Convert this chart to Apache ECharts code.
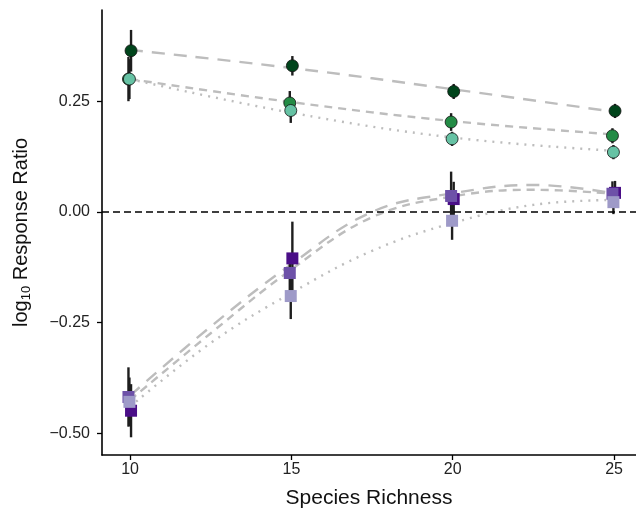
<!DOCTYPE html>
<html>
<head>
<meta charset="utf-8">
<script src="https://cdn.jsdelivr.net/npm/echarts@6/dist/echarts.min.js"></script>
<style>html,body{margin:0;padding:0;background:#fff}#c{width:636px;height:514px}</style>
</head>
<body>
<div id="c"></div>
<script>
// ---- Data ----
const richness = [10, 15, 20, 25];
const xTicks = [10, 15, 20, 25];
const yTicks = [-0.5, -0.25, 0, 0.25];

// circles (green groups): means and error half-widths
const circDark = [0.364, 0.330, 0.272, 0.228];
const circDarkErr = [0.047, 0.022, 0.017, 0.016];
const circMed = [0.300, 0.246, 0.203, 0.172];
const circMedErr = [0.050, 0.027, 0.020, 0.017];
const circLight = [0.300, 0.229, 0.165, 0.135];
const circLightErr = [0.045, 0.028, 0.016, 0.016];

// squares (purple groups)
const sqDark = [-0.449, -0.105, 0.029, 0.043];
const sqDarkErr = [0.060, 0.083, 0.039, 0.027];
const sqMed = [-0.418, -0.138, 0.036, 0.041];
const sqMedErr = [0.067, 0.040, 0.055, 0.028];
const sqLight = [-0.429, -0.190, -0.020, 0.022];
const sqLightErr = [0.055, 0.052, 0.043, 0.027];

// fitted curves
const fitCircX = [10, 15, 20, 25];
const fitCircDark = [0.366, 0.325, 0.277, 0.226];
const fitCircMed = [0.300, 0.248, 0.205, 0.175];
const fitCircLight = [0.300, 0.224, 0.168, 0.138];
const fitSqX = [10, 12.5, 15, 17.5, 20, 22.5, 25];
const fitSqDark = [-0.415, -0.259, -0.118, 0.000, 0.042, 0.061, 0.042];
const fitSqMed = [-0.425, -0.274, -0.130, -0.012, 0.035, 0.050, 0.041];
const fitSqLight = [-0.440, -0.296, -0.183, -0.088, -0.025, 0.016, 0.027];

// ---- Styles ----
const DODGE = {dark: 0.03, med: -0.05, light: -0.02};
const C = {
  gDark: '#00441b', gMed: '#238b45', gLight: '#66c2a4',
  pDark: '#4a0e87', pMed: '#6d51a8', pLight: '#9e9ac8'
};
const FIT = '#bdbdbd';

function pts(xs, ys, dx) { return xs.map((x, i) => [x + (dx || 0), ys[i]]); }
function errs(xs, ys, es, dx) { return xs.map((x, i) => [x + dx, ys[i] - es[i], ys[i] + es[i]]); }

function errSeries(data) {
  return {
    type: 'custom', z: 2, silent: true,
    encode: {x: 0, y: [1, 2]},
    data: data,
    renderItem: function (params, api) {
      const p1 = api.coord([api.value(0), api.value(1)]);
      const p2 = api.coord([api.value(0), api.value(2)]);
      return {type: 'line', shape: {x1: p1[0], y1: p1[1], x2: p2[0], y2: p2[1]},
              style: {stroke: '#1e1e1e', lineWidth: 2.4}};
    }
  };
}
function fitSeries(xs, ys, dash) {
  return {type: 'line', z: 1, silent: true, data: pts(xs, ys), smooth: 0.4, showSymbol: false,
          symbol: 'none', lineStyle: {color: FIT, width: 2.4, type: dash}};
}
function ptSeries(xs, ys, dx, color, sym, z) {
  return {type: 'scatter', z: z, data: pts(xs, ys, dx), symbol: sym,
          symbolSize: 12,
          itemStyle: {color: color, opacity: 1, borderColor: sym === 'circle' ? '#111' : color,
                      borderWidth: sym === 'circle' ? 0.8 : 0}};
}

const chart = echarts.init(document.getElementById('c'), null, {renderer: 'canvas'});
const FONT = 'Liberation Sans, Arial, sans-serif';
chart.setOption({
  animation: false,
  backgroundColor: '#fff',
  grid: {left: 102, right: 0, top: 10, bottom: 59, containLabel: false},
  xAxis: {
    type: 'value', min: 9.13, max: 25.68,
    name: 'Species Richness', nameLocation: 'middle', nameGap: 33,
    nameTextStyle: {fontFamily: FONT, fontSize: 21, color: '#111'},
    axisLine: {show: true, onZero: false, lineStyle: {color: '#000', width: 1.6}},
    axisTick: {show: true, length: 5, customValues: xTicks, lineStyle: {color: '#000', width: 1.3}},
    axisLabel: {customValues: xTicks, fontFamily: FONT, fontSize: 16, color: '#222', margin: 7},
    splitLine: {show: false}
  },
  yAxis: {
    type: 'value', min: -0.549, max: 0.456,
    name: '{a|log}{s|10}{a| Response Ratio}', nameLocation: 'middle', nameGap: 69, nameRotate: 90,
    nameTextStyle: {fontFamily: FONT, fontSize: 20, color: '#111',
      rich: {a: {fontFamily: FONT, fontSize: 20, color: '#111'},
             s: {fontFamily: FONT, fontSize: 13, color: '#111', padding: [10, 0, 0, 0]}}},
    axisLine: {show: true, onZero: false, lineStyle: {color: '#000', width: 1.6}},
    axisTick: {show: true, length: 5, customValues: yTicks, lineStyle: {color: '#000', width: 1.3}},
    axisLabel: {customValues: yTicks, fontFamily: FONT, fontSize: 16, color: '#222', margin: 12,
      formatter: v => (v < 0 ? '\u2212' : '') + Math.abs(v).toFixed(2)},
    splitLine: {show: false}
  },
  series: [
    {type: 'line', data: [], z: 0, markLine: {silent: true, symbol: 'none', label: {show: false},
      lineStyle: {color: '#000', width: 1.5, type: [7, 4]}, data: [{yAxis: 0}]}},
    fitSeries(fitCircX, fitCircDark, [13, 9]),
    fitSeries(fitCircX, fitCircMed, [8, 6]),
    fitSeries(fitCircX, fitCircLight, [2, 6]),
    fitSeries(fitSqX, fitSqDark, [13, 9]),
    fitSeries(fitSqX, fitSqMed, [8, 6]),
    fitSeries(fitSqX, fitSqLight, [2, 6]),
    errSeries(errs(richness, circDark, circDarkErr, DODGE.dark)),
    errSeries(errs(richness, circMed, circMedErr, DODGE.med)),
    errSeries(errs(richness, circLight, circLightErr, DODGE.light)),
    errSeries(errs(richness, sqDark, sqDarkErr, DODGE.dark)),
    errSeries(errs(richness, sqMed, sqMedErr, DODGE.med)),
    errSeries(errs(richness, sqLight, sqLightErr, DODGE.light)),
    ptSeries(richness, circDark, DODGE.dark, C.gDark, 'circle', 5),
    ptSeries(richness, circMed, DODGE.med, C.gMed, 'circle', 6),
    ptSeries(richness, circLight, DODGE.light, C.gLight, 'circle', 7),
    ptSeries(richness, sqDark, DODGE.dark, C.pDark, 'rect', 5),
    ptSeries(richness, sqMed, DODGE.med, C.pMed, 'rect', 6),
    ptSeries(richness, sqLight, DODGE.light, C.pLight, 'rect', 7)
  ]
});
</script>
</body>
</html>
